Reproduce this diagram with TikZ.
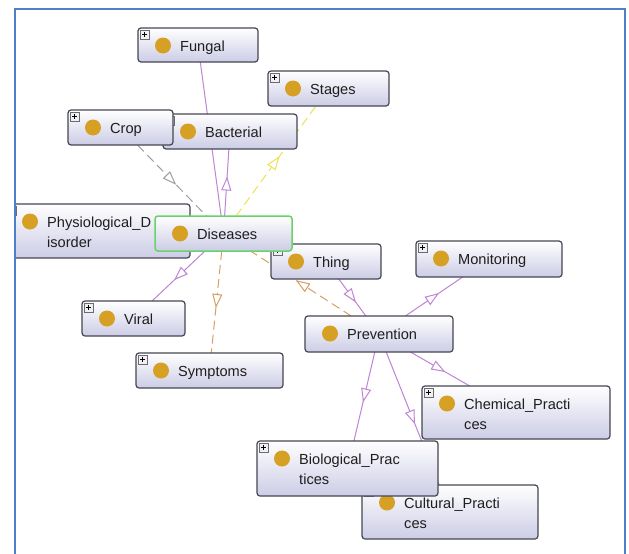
\documentclass[tikz,border=0pt]{standalone}
\usepackage{fontspec}
\setmainfont{Liberation Sans}
\usetikzlibrary{calc,arrows.meta,decorations.markings}

\definecolor{framecol}{RGB}{78,128,200}
\definecolor{boxline}{RGB}{70,70,82}
\definecolor{boxlow}{RGB}{204,204,230}
\definecolor{selline}{RGB}{105,210,105}
\definecolor{dotcol}{RGB}{214,160,36}
\definecolor{lilac}{RGB}{192,132,214}
\definecolor{tan}{RGB}{214,160,100}
\definecolor{greyline}{RGB}{158,158,158}
\definecolor{yelline}{RGB}{236,226,84}
\definecolor{txtcol}{RGB}{30,30,30}

\pgfdeclarelayer{edges}
\pgfdeclarelayer{top}
\pgfsetlayers{edges,main,top}

\tikzset{
  clsbox/.style={draw=boxline, line width=1.2pt, rounded corners=3pt,
    top color=white, bottom color=boxlow, anchor=north west,
    inner sep=0pt, outer sep=0pt},
  selbox/.style={draw=selline, line width=1.5pt},
  clstext/.style={anchor=base west, inner sep=0pt, text=txtcol,
    font=\fontsize{14.6}{18}\selectfont},
  plusbox/.style={draw=boxline!80, fill=black!6, line width=0.6pt},
  edge/.style={line width=1pt, postaction={decorate},
    decoration={markings, mark=at position 0.5 with
      {\arrow[solid, line width=1pt, xshift=6pt]{Triangle[length=14pt, width=10pt, fill=white]}}}},
  isa/.style={edge, lilac},
  tanrel/.style={edge, tan, dash pattern=on 9pt off 5pt},
  greyrel/.style={edge, greyline, dash pattern=on 9pt off 5pt},
  yelrel/.style={edge, yelline, dash pattern=on 9pt off 5pt},
}

% class box: name, x, y, width, height, extra style
\newcommand\owlbox[6]{%
  \node[clsbox,#6,minimum width=#4pt,minimum height=#5pt] (#1) at (#2,#3) {};
  \fill[dotcol] ($(#1.north west)+(25,17.5)$) circle[radius=8pt];
}
% expand icon in the top left corner
\newcommand\owlplus[1]{%
  \draw[plusbox] ($(#1.north west)+(2,2)$) rectangle +(9,9);
  \draw[black, line width=0.7pt] ($(#1.north west)+(4,6.5)$) -- +(5,0)
    ($(#1.north west)+(6.5,4)$) -- +(0,5);
}
% one-line and two-line labels
\newcommand\owlone[2]{\node[clstext] (#1-l1) at ($(#1.north west)+(42,23)$) {#2};}
\newcommand\owltwo[3]{%
  \node[clstext] (#1-l1) at ($(#1.north west)+(42,23.5)$) {#2};
  \node[clstext] (#1-l2) at ($(#1.north west)+(42,43.5)$) {#3};}

\begin{document}
\begin{tikzpicture}[x=1pt,y=-1pt]
\useasboundingbox (0,0) rectangle (629,554);

% classes, back to front
\owlbox{fungal}{138}{28}{120}{34}{}\owlplus{fungal}\owlone{fungal}{Fungal}
\owlbox{stages}{268}{71}{121}{35}{}\owlplus{stages}\owlone{stages}{Stages}
\owlbox{bacterial}{163}{114}{134}{35}{}\owlplus{bacterial}\owlone{bacterial}{Bacterial}
\owlbox{crop}{68}{110}{105}{35}{}\owlplus{crop}\owlone{crop}{Crop}
\owlbox{physio}{5}{204}{185}{54}{}\owlplus{physio}\owltwo{physio}{Physiological\_D}{isorder}
\owlbox{thing}{271}{244}{110}{35}{}\owlplus{thing}\owlone{thing}{Thing}
\owlbox{diseases}{155}{216}{137}{35}{selbox}\owlone{diseases}{Diseases}
\owlbox{monitoring}{416}{241}{146}{36}{}\owlplus{monitoring}\owlone{monitoring}{Monitoring}
\owlbox{viral}{82}{301}{103}{35}{}\owlplus{viral}\owlone{viral}{Viral}
\owlbox{symptoms}{136}{353}{147}{35}{}\owlplus{symptoms}\owlone{symptoms}{Symptoms}
\owlbox{prevention}{305}{316}{148}{36}{}\owlone{prevention}{Prevention}
\owlbox{chemical}{422}{386}{188}{53}{}\owlplus{chemical}\owltwo{chemical}{Chemical\_Practi}{ces}
\owlbox{cultural}{362}{485}{176}{54}{}\owlplus{cultural}\owltwo{cultural}{Cultural\_Practi}{ces}
\owlbox{biological}{257}{441}{181}{55}{}\owlplus{biological}\owltwo{biological}{Biological\_Prac}{tices}

% white page and relations, drawn behind the boxes
\begin{pgfonlayer}{edges}
\fill[white] (0,0) rectangle (629,554);
\draw[isa] (diseases) -- (fungal);
\draw[isa] (diseases) -- (bacterial);
\draw[isa] (diseases) -- (viral);
\draw[greyrel] (crop) -- (diseases);
\draw[yelrel] (diseases) -- (stages);
\draw[tanrel] (diseases) -- (symptoms);
\draw[tanrel] (prevention) -- (diseases);
\draw[isa] (thing) -- (prevention);
\draw[isa] (prevention) -- (monitoring);
\draw[isa] (prevention) -- (chemical);
\draw[isa] (prevention) -- (biological);
\draw[isa] (prevention) -- (cultural);
\end{pgfonlayer}

% page frame
\begin{pgfonlayer}{top}
\fill[white] (0,0) rectangle (14,554);
\draw[framecol, line width=2.5pt] (15,556) -- (15,9) -- (625,9) -- (625,556);
\end{pgfonlayer}
\end{tikzpicture}
\end{document}
